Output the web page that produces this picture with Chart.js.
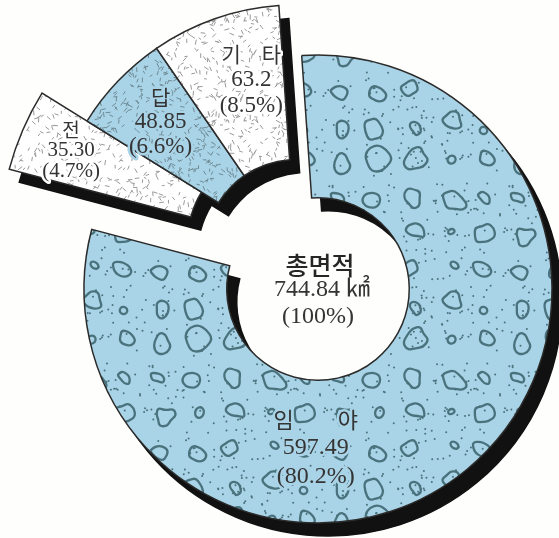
<!DOCTYPE html>
<html>
<head>
<meta charset="utf-8">
<script src="https://cdn.jsdelivr.net/npm/chart.js@4.4.1/dist/chart.umd.min.js"></script>
<style>
  html, body { margin: 0; padding: 0; background: #fefefc; }
  #wrap { position: relative; width: 559px; height: 538px; overflow: hidden; }
  .layer { position: absolute; width: 559px; height: 538px; }
  #shadowLayer { left: 10px; top: 13px; }
  #mainLayer { left: 0; top: 0; }
</style>
</head>
<body>
<div id="wrap">
  <div class="layer" id="shadowLayer"><canvas id="landuseShadow"></canvas></div>
  <div class="layer" id="mainLayer"><canvas id="landuse"></canvas></div>
</div>
<script>
// land use, km2 (clockwise, starting with 전 so that 임야 is drawn last)
var categories = ['전', '답', '기타', '임야'];
var nameLabels = ['전', '답', '기　타', '임　　야'];
var areas = [35.30, 48.85, 63.2, 597.49];
var areaLabels = ['35.30', '48.85', '63.2', '597.49'];
var shareLabels = ['(4.7%)', '(6.6%)', '(8.5%)', '(80.2%)'];
var totalLabels = ['총면적', '744.84 ㎢', '(100%)'];

var total = areas.reduce(function(a, b) { return a + b; }, 0);
// 임야 starts (about) at 12 o'clock, so the first slice starts where 임야 ends
var startRotation = 360 * areas[3] / total - 4;

// the three small slices are pulled out together, 전 a bit further
var pulledOut = [true, true, true, false];
var pullAngle = 330;      // degrees clockwise from 12 o'clock
var pullDistance = 44;
var slideBy = [20, 0, 0, 0];
var extraRadius = [45, 12, 12, 0];
var sliceGround = ['#ffffff', '#a9d3e6', '#ffffff', '#a9d3e6'];
// where the text sits inside each slice (fraction along the arc, fraction across the ring)
var labelSpots = [{f: 0.5, r: 0.72}, {f: 0.5, r: 0.62}, {f: 0.65, r: 0.55}, {f: 0.64, r: 0.475}];
var lineGaps = [21, 25, 26, 28.5];
var numberSizes = [21, 23, 23, 24];

function rng(seed) {
  var s = seed;
  return function() { s = (s * 16807) % 2147483647; return (s - 1) / 2147483646; };
}

function dashPattern(bg, ink, seed, count) {
  var S = 100;
  var c = document.createElement('canvas'); c.width = S; c.height = S;
  var g = c.getContext('2d');
  g.fillStyle = bg; g.fillRect(0, 0, S, S);
  var r = rng(seed);
  g.strokeStyle = ink; g.lineWidth = 1; g.lineCap = 'round';
  for (var i = 0; i < count; i++) {
    var x = r() * S, y = r() * S, a = r() * Math.PI, l = 2 + r() * 2.5;
    var dx = Math.cos(a) * l / 2, dy = Math.sin(a) * l / 2;
    for (var ox = -S; ox <= S; ox += S) for (var oy = -S; oy <= S; oy += S) {
      g.beginPath(); g.moveTo(x - dx + ox, y - dy + oy); g.lineTo(x + dx + ox, y + dy + oy); g.stroke();
    }
  }
  return g.createPattern(c, 'repeat');
}

function blobPattern(bg, ink, seed) {
  var S = 180, cell = 36;
  var c = document.createElement('canvas'); c.width = S; c.height = S;
  var g = c.getContext('2d');
  g.fillStyle = bg; g.fillRect(0, 0, S, S);
  var r = rng(seed);
  g.strokeStyle = ink; g.lineWidth = 2.3;
  for (var gx = 0; gx < S / cell; gx++) for (var gy = 0; gy < S / cell; gy++) {
    var cx = gx * cell + cell / 2 + (r() - 0.5) * 10;
    var cy = gy * cell + cell / 2 + (r() - 0.5) * 10;
    var small = r() < 0.25;
    var rad = small ? 3.5 + r() * 2.5 : 8 + r() * 7;
    var n = small ? 8 : 9, pts = [];
    var stretch = 0.6 + r() * 0.6, rot = r() * Math.PI;
    for (var k = 0; k < n; k++) {
      var t = k / n * Math.PI * 2;
      var rr = rad * (small ? 1 : 0.6 + r() * 0.6);
      var px = Math.cos(t) * rr * stretch, py = Math.sin(t) * rr;
      pts.push([cx + px * Math.cos(rot) - py * Math.sin(rot), cy + px * Math.sin(rot) + py * Math.cos(rot)]);
    }
    for (var ox = -S; ox <= S; ox += S) for (var oy = -S; oy <= S; oy += S) {
      g.beginPath();
      var last = pts[n - 1];
      g.moveTo((last[0] + pts[0][0]) / 2 + ox, (last[1] + pts[0][1]) / 2 + oy);
      for (var k2 = 0; k2 < n; k2++) {
        var p = pts[k2], q = pts[(k2 + 1) % n];
        g.quadraticCurveTo(p[0] + ox, p[1] + oy, (p[0] + q[0]) / 2 + ox, (p[1] + q[1]) / 2 + oy);
      }
      g.closePath(); g.stroke();
    }
  }
  g.fillStyle = ink;
  for (var i = 0; i < 240; i++) {
    g.beginPath(); g.arc(2 + r() * (S - 4), 2 + r() * (S - 4), 1, 0, Math.PI * 2); g.fill();
  }
  return g.createPattern(c, 'repeat');
}

var explodePlugin = {
  id: 'explode',
  afterDatasetsUpdate: function(chart) {
    var arcs = chart.getDatasetMeta(0).data;
    var pa = (pullAngle - 90) * Math.PI / 180;
    arcs.forEach(function(arc, i) {
      if (!pulledOut[i]) return;
      arc.x += Math.cos(pa) * pullDistance + Math.cos(arc.endAngle) * slideBy[i];
      arc.y += Math.sin(pa) * pullDistance + Math.sin(arc.endAngle) * slideBy[i];
      arc.outerRadius += extraRadius[i];
    });
  }
};

function haloText(ctx, text, x, y, ground) {
  ctx.lineWidth = 5;
  ctx.lineJoin = 'round';
  ctx.strokeStyle = ground;
  ctx.strokeText(text, x, y);
  ctx.fillText(text, x, y);
}

var textPlugin = {
  id: 'sliceText',
  afterDatasetsDraw: function(chart) {
    var ctx = chart.ctx;
    var arcs = chart.getDatasetMeta(0).data;
    ctx.save();
    ctx.fillStyle = '#343434';
    ctx.textAlign = 'center';
    ctx.textBaseline = 'middle';
    arcs.forEach(function(arc, i) {
      var spot = labelSpots[i];
      var a = arc.startAngle + spot.f * (arc.endAngle - arc.startAngle);
      var rad = arc.innerRadius + spot.r * (arc.outerRadius - arc.innerRadius);
      var x = arc.x + Math.cos(a) * rad, y = arc.y + Math.sin(a) * rad;
      var gap = lineGaps[i];
      ctx.font = (numberSizes[i] - 2) + 'px "Noto Sans CJK KR"';
      haloText(ctx, nameLabels[i], x, y - gap, sliceGround[i]);
      ctx.font = numberSizes[i] + 'px "Liberation Serif", "Noto Sans CJK KR"';
      haloText(ctx, areaLabels[i], x, y, sliceGround[i]);
      haloText(ctx, shareLabels[i], x, y + gap, sliceGround[i]);
    });
    var cx = (chart.chartArea.left + chart.chartArea.right) / 2;
    var cy = (chart.chartArea.top + chart.chartArea.bottom) / 2;
    ctx.fillStyle = '#262626';
    ctx.font = '500 25px "Noto Sans CJK KR"';
    ctx.fillText(totalLabels[0], cx + 2, cy - 24);
    ctx.fillStyle = '#343434';
    ctx.font = '24px "Liberation Serif", "Noto Sans CJK KR"';
    ctx.fillText(totalLabels[1], cx + 4, cy + 1);
    ctx.fillText(totalLabels[2], cx, cy + 28);
    ctx.restore();
  }
};

function makeConfig(fills, border, plugins) {
  return {
    type: 'doughnut',
    data: {
      labels: categories,
      datasets: [{
        data: areas,
        backgroundColor: fills,
        borderColor: border,
        borderWidth: 1.5,
        borderJoinStyle: 'miter'
      }]
    },
    options: {
      responsive: true,
      maintainAspectRatio: false,
      animation: false,
      events: [],
      rotation: startRotation,
      radius: 234,
      cutout: '39%',
      layout: { padding: { left: 77, top: 40 } },
      plugins: { legend: { display: false }, tooltip: { enabled: false } }
    },
    plugins: plugins
  };
}

var field = dashPattern('#ffffff', '#9a9a9a', 11, 230);
var paddy = dashPattern('#a9d3e6', '#6f8c96', 23, 280);
var other = dashPattern('#ffffff', '#9a9a9a', 37, 230);
var forest = blobPattern('#a9d3e6', '#4a727d', 5);

new Chart(document.getElementById('landuseShadow').getContext('2d'),
  makeConfig(['#111111', '#111111', '#111111', '#111111'], '#111111', [explodePlugin]));
new Chart(document.getElementById('landuse').getContext('2d'),
  makeConfig([field, paddy, other, forest], '#2b2b2b', [explodePlugin, textPlugin]));
</script>
</body>
</html>
